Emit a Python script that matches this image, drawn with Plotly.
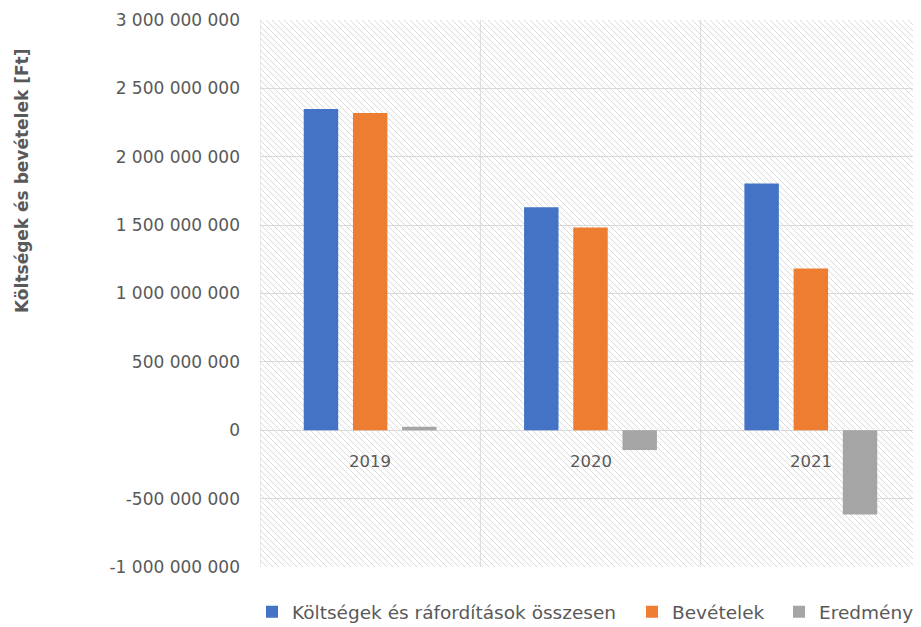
import base64

import plotly.graph_objects as go

years = ["2019", "2020", "2021"]
koltsegek = [2_350_000_000, 1_630_000_000, 1_805_000_000]
bevetelek = [2_320_000_000, 1_482_000_000, 1_183_000_000]
eredmeny = [25_000_000, -145_000_000, -617_000_000]

series_names = ["Költségek és ráfordítások összesen", "Bevételek", "Eredmény"]
series_colors = ["#4472c4", "#ed7d31", "#a5a5a5"]

y_ticks = [-1_000_000_000, -500_000_000, 0, 500_000_000, 1_000_000_000,
           1_500_000_000, 2_000_000_000, 2_500_000_000, 3_000_000_000]


def _fmt(value: int) -> str:
    return f"{value:,}".replace(",", " ")


# the page body has an 8px margin, so the figure is a bit smaller than the window
_W, _H = 913, 619
_L, _T, _B = 252, 12, 60
_PLOT_W, _PLOT_H = _W - _L, _H - _T - _B

# hatched plot background, sized to the plot area in pixels
_svg = (
    f'<svg xmlns="http://www.w3.org/2000/svg" width="{_PLOT_W}" height="{_PLOT_H}">'
    '<defs><pattern id="h" width="6" height="6" patternUnits="userSpaceOnUse">'
    '<path d="M0,0 L6,6 M-1,5 L1,7 M5,-1 L7,1" stroke="#dadada" stroke-width="1"/>'
    "</pattern></defs>"
    f'<rect width="{_PLOT_W}" height="{_PLOT_H}" fill="white"/>'
    f'<rect width="{_PLOT_W}" height="{_PLOT_H}" fill="url(#h)"/></svg>'
)
_hatch = "data:image/svg+xml;base64," + base64.b64encode(_svg.encode()).decode()

# one legend per series so each entry can sit where the original has it
legend_ids = ["legend", "legend2", "legend3"]
legend_px = [244, 624, 771]  # left edge of each legend box, figure pixels

fig = go.Figure()
for name, values, color, lid in zip(
    series_names, [koltsegek, bevetelek, eredmeny], series_colors, legend_ids
):
    fig.add_trace(
        go.Bar(
            x=list(range(len(years))),
            y=values,
            name=name,
            legend=lid,
            marker={"color": color, "line": {"width": 0}},
        )
    )

shapes = [
    {
        "type": "line",
        "xref": "x",
        "yref": "paper",
        "x0": pos,
        "x1": pos,
        "y0": 0,
        "y1": 1,
        "line": {"color": "#d9d9d9", "width": 1},
        "layer": "below",
    }
    for pos in [-0.5, 0.5, 1.5, 2.5]
]

annotations = [
    {
        "x": i,
        "y": 0,
        "xref": "x",
        "yref": "y",
        "text": year,
        "showarrow": False,
        "yanchor": "top",
        "yshift": -20,
        "font": {"size": 16.5, "color": "#595959"},
    }
    for i, year in enumerate(years)
]
annotations.append(
    {
        "x": (14 - _L) / _PLOT_W,
        "y": 1 - (173 - _T) / _PLOT_H,
        "xref": "paper",
        "yref": "paper",
        "text": "<b>Költségek és bevételek [Ft]</b>",
        "textangle": -90,
        "showarrow": False,
        "xanchor": "center",
        "yanchor": "middle",
        "font": {"size": 17, "color": "#595959"},
    }
)

legend_style = {
    "orientation": "h",
    "xanchor": "left",
    "y": -0.048,
    "yanchor": "top",
    "font": {"size": 18.5, "color": "#595959"},
    "itemwidth": 30,
    "bgcolor": "rgba(0,0,0,0)",
}

fig.update_layout(
    width=_W,
    height=_H,
    margin={"l": _L, "r": 0, "t": _T, "b": _B, "autoexpand": False},
    paper_bgcolor="white",
    plot_bgcolor="white",
    font={"family": "'DejaVu Sans', sans-serif", "color": "#595959"},
    barmode="group",
    bargap=0.33,
    bargroupgap=0.3,
    images=[
        {
            "source": _hatch,
            "xref": "paper",
            "yref": "paper",
            "x": 0,
            "y": 1,
            "sizex": 1,
            "sizey": 1,
            "sizing": "stretch",
            "layer": "below",
        }
    ],
    shapes=shapes,
    annotations=annotations,
    xaxis={
        "range": [-0.5, 2.5],
        "showticklabels": False,
        "showgrid": False,
        "zeroline": False,
        "fixedrange": True,
    },
    yaxis={
        "range": [-1_000_000_000, 3_000_000_000],
        "tickvals": y_ticks,
        "ticktext": [_fmt(v) for v in y_ticks],
        "tickfont": {"size": 17, "color": "#595959"},
        "ticks": "",
        "ticklabelstandoff": 19,
        "showgrid": True,
        "gridcolor": "#d9d9d9",
        "zeroline": True,
        "zerolinecolor": "#d9d9d9",
        "zerolinewidth": 1,
    },
    showlegend=True,
)
for lid, px in zip(legend_ids, legend_px):
    fig.update_layout({lid: dict(legend_style, x=(px - _L) / _PLOT_W)})

fig.write_html("out.html")
